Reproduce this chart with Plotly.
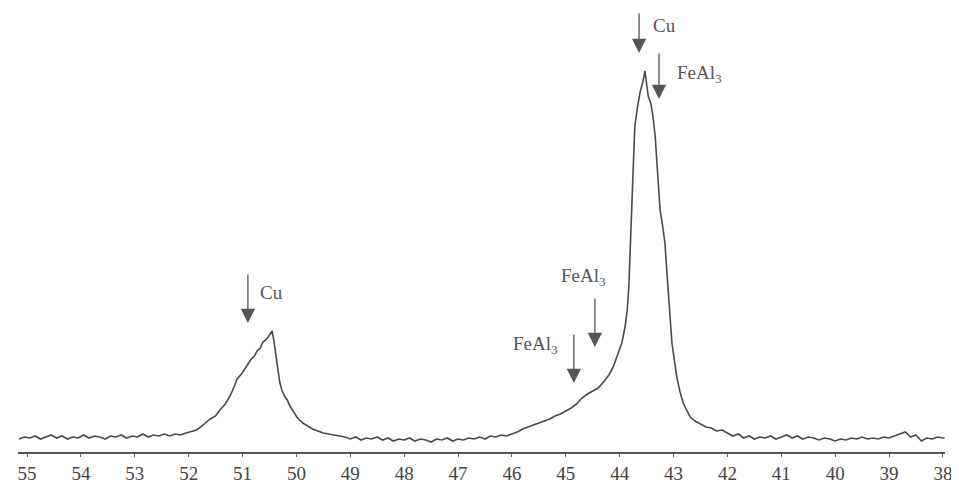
import plotly.graph_objects as go

# 2-theta (degrees) and intensity (a.u.)
two_theta = [
    55.15, 55.05, 54.95, 54.85, 54.75, 54.65, 54.55, 54.45, 54.35, 54.25,
    54.15, 54.05, 53.95, 53.85, 53.75, 53.65, 53.55, 53.45, 53.35, 53.25,
    53.15, 53.05, 52.95, 52.85, 52.75, 52.65, 52.55, 52.45, 52.35, 52.25,
    52.15, 52.05,
    51.97, 51.85, 51.73, 51.60, 51.50, 51.42, 51.32, 51.23, 51.15, 51.10,
    51.02, 50.92, 50.85, 50.78, 50.73, 50.67, 50.62, 50.55, 50.50, 50.45,
    50.42, 50.40, 50.37, 50.34, 50.31, 50.27, 50.22, 50.17, 50.12, 50.05,
    49.98, 49.88, 49.80, 49.70, 49.60, 49.50, 49.40, 49.30, 49.20,
    49.1, 49.0, 48.9, 48.8, 48.7, 48.6, 48.5, 48.4, 48.3, 48.2, 48.1, 48.0,
    47.9, 47.8, 47.7, 47.6, 47.5, 47.4, 47.3, 47.2, 47.1, 47.0, 46.9, 46.8,
    46.7, 46.6, 46.5, 46.4, 46.3, 46.2, 46.1,
    46.0, 45.9, 45.8, 45.7, 45.6, 45.5, 45.4, 45.3, 45.2, 45.1, 45.0, 44.9,
    44.8, 44.7, 44.6, 44.5, 44.4, 44.3, 44.2, 44.12, 44.05, 43.96, 43.90,
    43.86, 43.83, 43.81, 43.79, 43.77, 43.74, 43.72, 43.67, 43.62, 43.57,
    43.53, 43.50, 43.47, 43.42, 43.38, 43.34, 43.31, 43.28, 43.25, 43.20,
    43.16, 43.13, 43.10, 43.06, 43.03, 42.98, 42.94, 42.88, 42.82, 42.75,
    42.69, 42.60, 42.50, 42.40, 42.30, 42.20, 42.10,
    42.0, 41.9, 41.8, 41.7, 41.6, 41.5, 41.4, 41.3, 41.2, 41.1, 41.0, 40.9,
    40.8, 40.7, 40.6, 40.5, 40.4, 40.3, 40.2, 40.1, 40.0, 39.9, 39.8, 39.7,
    39.6, 39.5, 39.4, 39.3, 39.2, 39.1, 39.0, 38.9, 38.8, 38.7, 38.6, 38.5,
    38.4, 38.3, 38.2, 38.1, 38.0, 37.97,
]
intensity = [
    13, 15, 14, 16, 13, 15, 17, 14, 16, 13,
    15, 14, 17, 14, 16, 15, 13, 16, 15, 17,
    14, 16, 15, 18, 15, 17, 16, 18, 16, 18,
    17, 19,
    20, 22, 27, 33, 36, 42, 48, 56, 66, 73,
    78, 86, 92, 96, 101, 104, 110, 113, 117, 121,
    112, 104, 92, 82, 70, 62, 56, 52, 46, 40,
    34, 29, 26, 23, 21, 19, 18, 17, 16,
    15, 13, 15, 12, 14, 13, 15, 12, 14, 11, 13, 12,
    14, 11, 13, 12, 10, 13, 12, 14, 11, 13, 12, 14,
    13, 15, 13, 16, 15, 17, 16,
    18, 20, 23, 25, 27, 29, 31, 33, 36, 38, 41, 44,
    48, 54, 58, 61, 64, 70, 77, 85, 95, 109, 125,
    142, 165, 192, 225, 259, 295, 325, 345, 360, 370,
    381, 368, 356, 348, 335, 315, 292, 265, 242, 225,
    209, 185, 160, 132, 109, 90, 75, 60, 49, 41,
    35, 31, 28, 25, 24, 21, 22,
    19, 16, 18, 14, 16, 13, 15, 14, 16, 13, 15, 17,
    14, 16, 13, 15, 14, 12, 14, 13, 11, 13, 12, 14,
    13, 15, 13, 14, 13, 15, 14, 16, 18, 20, 15, 17,
    11, 14, 13, 15, 14, 14,
]

tick_vals = [55, 54, 53, 52, 51, 50, 49, 48, 47, 46, 45, 44, 43, 42, 41, 40, 39, 38]
tick_text = [str(v) for v in tick_vals]

# peak labels: arrow x, arrow tip y, arrow tail y, text x, text y, text anchor
peak_labels = ["Cu", "Cu", "FeAl<sub>3</sub>", "FeAl<sub>3</sub>", "FeAl<sub>3</sub>"]
arrow_x = [50.90, 43.64, 43.27, 44.46, 44.85]
arrow_tip = [129, 399, 353, 105, 69]
arrow_tail = [179, 440, 400, 155, 119]
label_x = [50.71, 43.42, 42.97, 44.68, 45.57]
label_y = [160, 427, 378, 175, 107]
label_anchor = ["left", "left", "left", "center", "center"]

fig = go.Figure()
fig.add_trace(go.Scatter(
    x=two_theta, y=intensity, mode="lines",
    line=dict(color="#4a4a4a", width=1.6),
    hoverinfo="skip", showlegend=False,
))

annotations = []
for i in range(len(peak_labels)):
    annotations.append(dict(
        x=arrow_x[i], y=arrow_tip[i], xref="x", yref="y",
        ax=arrow_x[i], ay=arrow_tail[i], axref="x", ayref="y",
        text="", showarrow=True, arrowhead=2, arrowsize=2.2,
        arrowwidth=1.3, arrowcolor="#555555", standoff=0, startstandoff=0,
    ))
    annotations.append(dict(
        x=label_x[i], y=label_y[i], xref="x", yref="y",
        text=peak_labels[i], showarrow=False, xanchor=label_anchor[i],
        yanchor="middle",
        font=dict(family="Liberation Serif, Times New Roman, serif", size=19, color="#555555"),
    ))

fig.update_layout(
    width=945, height=476,
    margin=dict(l=10, r=8, t=0, b=32),
    paper_bgcolor="white", plot_bgcolor="white",
    annotations=annotations,
    xaxis=dict(
        range=[55.167, 37.962], tickmode="array", tickvals=tick_vals, ticktext=tick_text,
        showgrid=False, zeroline=False, showline=True, linecolor="#555555", linewidth=1.5,
        ticks="outside", ticklen=3, tickcolor="#666666", tickwidth=1,
        tickfont=dict(family="Liberation Serif, Times New Roman, serif", size=19, color="#444444"),
    ),
    yaxis=dict(range=[0, 444], visible=False, showgrid=False, zeroline=False),
)

fig.write_html("out.html")
